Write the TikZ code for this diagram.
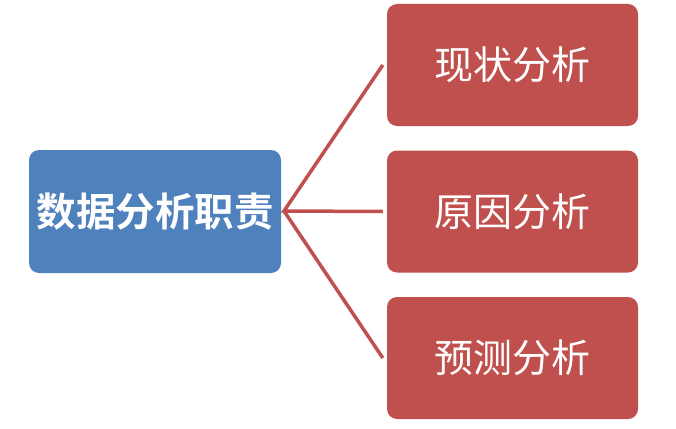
\documentclass[tikz,border=0pt]{standalone}
\usepackage{fontspec}
\newfontfamily\cjk{Noto Sans CJK SC}
\newfontfamily\cjkb{Noto Sans CJK SC Bold}
\definecolor{boxblue}{HTML}{4F81BD}
\definecolor{boxred}{HTML}{C0504D}
\begin{document}
\begin{tikzpicture}[x=1pt,y=-1pt,
  mainbox/.style={fill=boxblue, rounded corners=10pt, minimum width=252pt, minimum height=123pt, inner sep=0pt, text=white, font=\cjkb\fontsize{39.5}{44}\selectfont},
  subbox/.style={fill=boxred, rounded corners=10pt, minimum width=251pt, minimum height=122pt, inner sep=0pt, text=white, font=\cjk\fontsize{39}{44}\selectfont},
  link/.style={draw=boxred, line width=3.5pt}]
\useasboundingbox (0,0) rectangle (676,428);
\node[mainbox] (m) at (155,211.5) {数据分析职责};
\node[subbox] (a) at (512.5,65) {现状分析};
\node[subbox] (b) at (512.5,211.5) {原因分析};
\node[subbox] (c) at (512.5,358) {预测分析};
\coordinate (j) at (284,211);
\draw[link] (a.west) ++(-4,0) coordinate (ae) -- (j) -- (b.west -| ae);
\draw[link] (j) -- (c.west -| ae);
\end{tikzpicture}
\end{document}
